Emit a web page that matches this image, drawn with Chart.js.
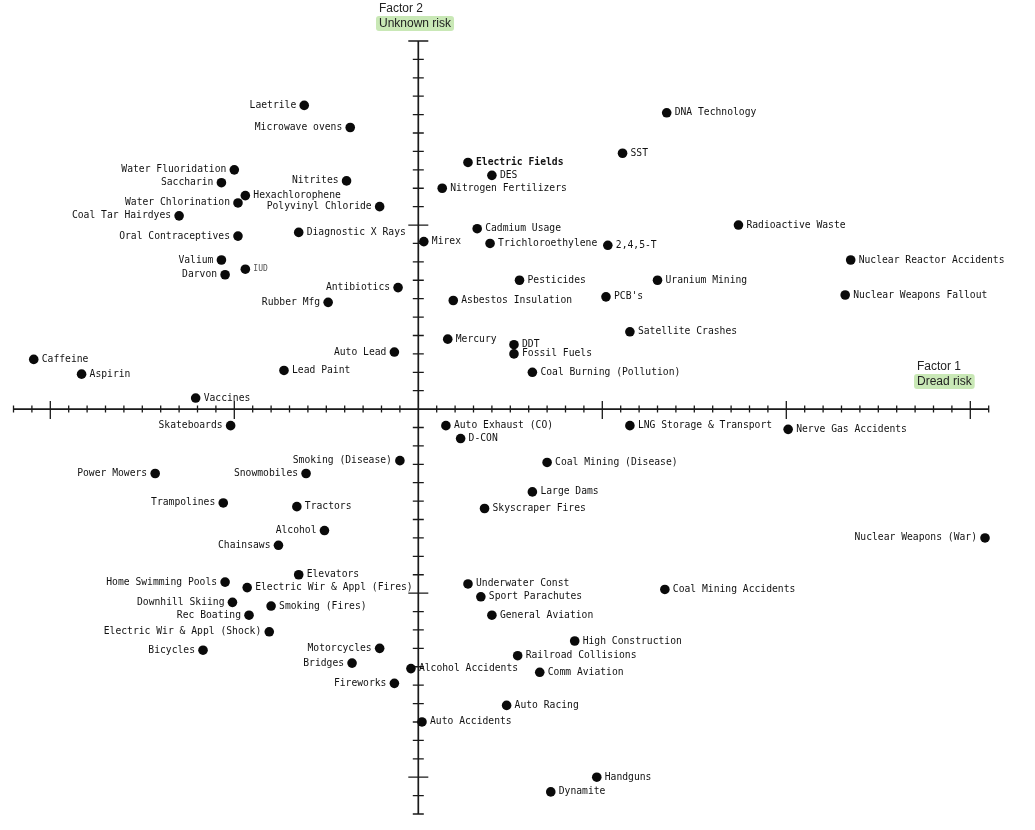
<!DOCTYPE html>
<html><head><meta charset="utf-8">
<script src="https://cdn.jsdelivr.net/npm/chart.js@4/dist/chart.umd.min.js"></script>
<style>html,body{margin:0;padding:0;background:#fff}#wrap{position:relative;width:1035px;height:830px}</style>
</head><body><div id="wrap"><canvas id="c"></canvas></div>
<script>
// ---- data ----
const hazards = [
 "Laetrile","Microwave ovens","Water Fluoridation","Saccharin","Hexachlorophene","Water Chlorination",
 "Coal Tar Hairdyes","Nitrites","Polyvinyl Chloride","Oral Contraceptives","Diagnostic X Rays","Valium",
 "IUD","Darvon","Antibiotics","Rubber Mfg","Mirex","Caffeine","Aspirin","Auto Lead","Lead Paint","Vaccines",
 "DNA Technology","SST","Electric Fields","DES","Nitrogen Fertilizers","Cadmium Usage","Radioactive Waste",
 "Trichloroethylene","2,4,5-T","Nuclear Reactor Accidents","Pesticides","Uranium Mining","Asbestos Insulation",
 "PCB's","Nuclear Weapons Fallout","Mercury","DDT","Fossil Fuels","Coal Burning (Pollution)","Satellite Crashes",
 "Skateboards","Smoking (Disease)","Power Mowers","Snowmobiles","Trampolines","Tractors","Alcohol","Chainsaws",
 "Elevators","Home Swimming Pools","Electric Wir & Appl (Fires)","Downhill Skiing","Smoking (Fires)","Rec Boating",
 "Electric Wir & Appl (Shock)","Bicycles","Motorcycles","Bridges","Alcohol Accidents","Fireworks",
 "Auto Exhaust (CO)","D-CON","Coal Mining (Disease)","Large Dams","Skyscraper Fires","LNG Storage & Transport",
 "Nerve Gas Accidents","Nuclear Weapons (War)","Underwater Const","Sport Parachutes","General Aviation",
 "Coal Mining Accidents","High Construction","Railroad Collisions","Comm Aviation","Auto Racing","Auto Accidents",
 "Handguns","Dynamite"
];
const dreadRisk = [ // Factor 1
 -0.62,-0.37,-1.00,-1.07,-0.94,-0.98,
 -1.30,-0.39,-0.21,-0.98,-0.65,-1.07,
 -0.94,-1.05,-0.11,-0.49,0.03,-2.09,-1.83,-0.13,-0.73,-1.21,
 1.35,1.11,0.27,0.40,0.13,0.32,1.74,
 0.39,1.03,2.35,0.55,1.30,0.19,
 1.02,2.32,0.16,0.52,0.52,0.62,1.15,
 -1.02,-0.10,-1.43,-0.61,-1.06,-0.66,-0.51,-0.76,
 -0.65,-1.05,-0.93,-1.01,-0.80,-0.92,
 -0.81,-1.17,-0.21,-0.36,-0.04,-0.13,
 0.15,0.23,0.70,0.62,0.36,1.15,
 2.01,3.08,0.27,0.34,0.40,
 1.34,0.85,0.54,0.66,0.48,0.02,
 0.97,0.72
];
const unknownRisk = [ // Factor 2
 1.65,1.53,1.30,1.23,1.16,1.12,
 1.05,1.24,1.10,0.94,0.96,0.81,
 0.76,0.73,0.66,0.58,0.91,0.27,0.19,0.31,0.21,0.06,
 1.61,1.39,1.34,1.27,1.20,0.98,1.00,
 0.90,0.89,0.81,0.70,0.70,0.59,
 0.61,0.62,0.38,0.35,0.30,0.20,0.42,
 -0.09,-0.28,-0.35,-0.35,-0.51,-0.53,-0.66,-0.74,
 -0.90,-0.94,-0.97,-1.05,-1.07,-1.12,
 -1.21,-1.31,-1.30,-1.38,-1.41,-1.49,
 -0.09,-0.16,-0.29,-0.45,-0.54,-0.09,
 -0.11,-0.70,-0.95,-1.02,-1.12,
 -0.98,-1.26,-1.34,-1.43,-1.61,-1.70,
 -2.00,-2.08
];
const labelsOnLeft = [
 "Laetrile","Microwave ovens","Water Fluoridation","Saccharin","Water Chlorination","Coal Tar Hairdyes",
 "Nitrites","Polyvinyl Chloride","Oral Contraceptives","Valium","Darvon","Antibiotics","Rubber Mfg","Auto Lead",
 "Skateboards","Smoking (Disease)","Power Mowers","Snowmobiles","Trampolines","Alcohol","Chainsaws",
 "Home Swimming Pools","Downhill Skiing","Rec Boating","Electric Wir & Appl (Shock)","Bicycles","Motorcycles",
 "Bridges","Fireworks","Nuclear Weapons (War)"
];
const smallLabels = ["IUD"];
const boldLabels = ["Electric Fields"];
const xRange = [-2.2, 3.1];
const yRange = [-2.2, 2.0];
const tickStep = 0.1;
const xTitle = ["Factor 1", "Dread risk"];
const yTitle = ["Factor 2", "Unknown risk"];

// ---- plugins ----
const labelFont = '9.7px "DejaVu Sans Mono", monospace';
const axesPlugin = {
  id: 'crossAxes',
  beforeDatasetsDraw(chart) {
    const ctx = chart.ctx, xs = chart.scales.x, ys = chart.scales.y;
    const x0 = xs.getPixelForValue(0), y0 = ys.getPixelForValue(0);
    ctx.save();
    ctx.strokeStyle = '#1a1a1a';
    ctx.lineWidth = 1.7;
    ctx.beginPath();
    ctx.moveTo(xs.getPixelForValue(xRange[0]), y0);
    ctx.lineTo(xs.getPixelForValue(xRange[1]), y0);
    ctx.moveTo(x0, ys.getPixelForValue(yRange[1]));
    ctx.lineTo(x0, ys.getPixelForValue(yRange[0]));
    ctx.stroke();
    ctx.lineWidth = 1.3;
    ctx.beginPath();
    for (let k = Math.round(xRange[0]/tickStep); k <= Math.round(xRange[1]/tickStep); k++) {
      if (k === 0) continue;
      const px = xs.getPixelForValue(k*tickStep);
      const major = k % 10 === 0;
      ctx.moveTo(px, y0 - (major ? 8 : 3.5));
      ctx.lineTo(px, y0 + (major ? 10 : 3.5));
    }
    for (let k = Math.round(yRange[0]/tickStep); k <= Math.round(yRange[1]/tickStep); k++) {
      if (k === 0) continue;
      const py = ys.getPixelForValue(k*tickStep);
      const major = k % 10 === 0;
      ctx.moveTo(x0 - (major ? 10 : 5.5), py);
      ctx.lineTo(x0 + (major ? 10 : 5.5), py);
    }
    ctx.stroke();
    // axis titles
    ctx.font = '12px "Liberation Sans", Arial, sans-serif';
    ctx.textBaseline = 'middle';
    ctx.textAlign = 'left';
    const drawTitle = (lines, x, y) => {
      ctx.fillStyle = '#222';
      ctx.fillText(lines[0], x + 2, y);
      const w = ctx.measureText(lines[1]).width + 6;
      ctx.fillStyle = '#c9e8b6';
      ctx.beginPath();
      if (ctx.roundRect) ctx.roundRect(x - 1, y + 7, w, 15, 3); else ctx.rect(x - 1, y + 7, w, 15);
      ctx.fill();
      ctx.fillStyle = '#222';
      ctx.fillText(lines[1], x + 2, y + 14.5);
    };
    drawTitle(yTitle, 377, 9);
    drawTitle(xTitle, 915, 367);
    ctx.restore();
  },
  afterDatasetsDraw(chart) {
    const ctx = chart.ctx;
    const meta = chart.getDatasetMeta(0);
    ctx.save();
    ctx.textBaseline = 'middle';
    meta.data.forEach((pt, i) => {
      const name = hazards[i];
      const left = labelsOnLeft.includes(name);
      const small = smallLabels.includes(name);
      const bold = boldLabels.includes(name);
      ctx.font = small ? '8px "DejaVu Sans Mono", monospace' : (bold ? 'bold ' : '') + labelFont;
      ctx.fillStyle = small ? '#555' : '#111';
      ctx.textAlign = left ? 'right' : 'left';
      ctx.fillText(name, pt.x + (left ? -8 : 8), pt.y);
    });
    ctx.restore();
  }
};

new Chart(document.getElementById('c'), {
  type: 'scatter',
  data: {
    datasets: [{
      data: hazards.map((n, i) => ({x: dreadRisk[i], y: unknownRisk[i]})),
      backgroundColor: '#0a0a0a',
      borderWidth: 0,
      pointRadius: 4.8,
      clip: false
    }]
  },
  options: {
    responsive: true,
    maintainAspectRatio: false,
    animation: false,
    events: [],
    layout: { autoPadding: false, padding: { left: 13.5, right: 46.3, top: 41, bottom: 16 } },
    plugins: { legend: { display: false }, tooltip: { enabled: false } },
    scales: {
      x: { type: 'linear', display: false, min: xRange[0], max: xRange[1] },
      y: { type: 'linear', display: false, min: yRange[0], max: yRange[1] }
    }
  },
  plugins: [axesPlugin]
});
</script>
</body></html>
